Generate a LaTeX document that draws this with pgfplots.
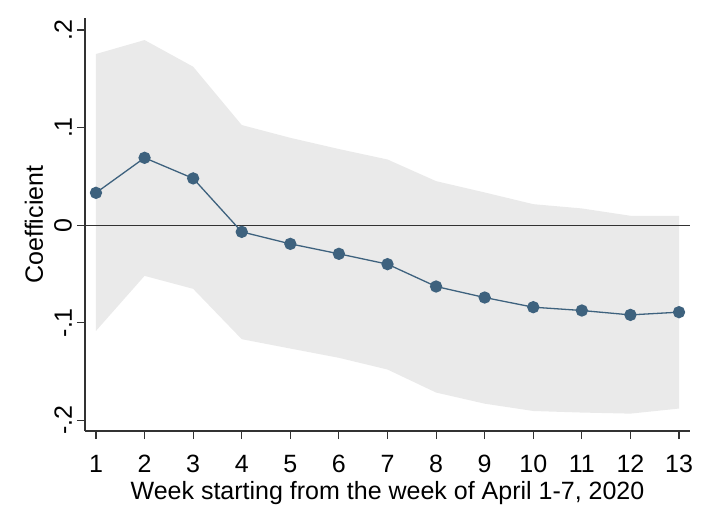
\documentclass[border=0pt]{standalone}
\usepackage{pgfplots}
\pgfplotsset{compat=1.18}
\usepackage{fontspec}
\setmainfont{Liberation Sans}
\definecolor{ciband}{RGB}{234,234,234}
\definecolor{stnavy}{RGB}{62,98,126}
\definecolor{axgray}{RGB}{50,50,50}
\begin{document}
\fontsize{25bp}{30bp}\selectfont
\begin{tikzpicture}
\path[use as bounding box] (-85bp,-85bp) rectangle (624bp,431bp);
\begin{axis}[
  at={(0,0)}, anchor=south west,
  scale only axis, width=605bp, height=413bp,
  xmin=0.774, xmax=13.226, ymin=-0.211, ymax=0.2123,
  axis lines*=left,
  axis line style={axgray, line width=1.1bp},
  tick align=outside,
  major tick length=8bp,
  tick style={axgray, line width=1.1bp},
  xtick={1,...,13},
  ytick={-0.2,-0.1,0,0.1,0.2},
  yticklabels={-.2,-.1,0,.1,.2},
  yticklabel style={rotate=90, anchor=south, inner sep=0pt, yshift=5bp},
  xticklabel style={anchor=base, inner sep=0pt, yshift=-33bp},
  /pgf/number format/assume math mode=true,
  xlabel={Week starting from the week of April 1-7, 2020},
  ylabel={Coefficient},
  every axis x label/.style={at={(rel axis cs:0.5,0)}, anchor=base, yshift=-68bp},
  every axis y label/.style={at={(rel axis cs:0,0.5)}, rotate=90, anchor=center, yshift=51bp},
  clip=false,
]
\addplot[fill=ciband, draw=none] coordinates {
 (1,0.1754) (2,0.1897) (3,0.1624) (4,0.1026) (5,0.0895) (6,0.078) (7,0.0673)
 (8,0.0451) (9,0.0335) (10,0.0215) (11,0.0171) (12,0.0096) (13,0.0096)
 (13,-0.188) (12,-0.1932) (11,-0.1921) (10,-0.1905) (9,-0.183) (8,-0.1716)
 (7,-0.148) (6,-0.136) (5,-0.1265) (4,-0.1169) (3,-0.0653) (2,-0.052) (1,-0.1084)
} -- cycle;
\addplot[axgray, line width=1bp] coordinates {(0.774,0) (13.226,0)};
\addplot[stnavy, line width=1.3bp, mark=*, mark size=5.5bp, mark options={fill=stnavy, draw=stnavy}] coordinates {
 (1,0.0331) (2,0.069) (3,0.0479) (4,-0.0069) (5,-0.0192) (6,-0.0294) (7,-0.040)
 (8,-0.0629) (9,-0.0742) (10,-0.0841) (11,-0.0875) (12,-0.092) (13,-0.0892)
};
\end{axis}
\end{tikzpicture}
\end{document}
